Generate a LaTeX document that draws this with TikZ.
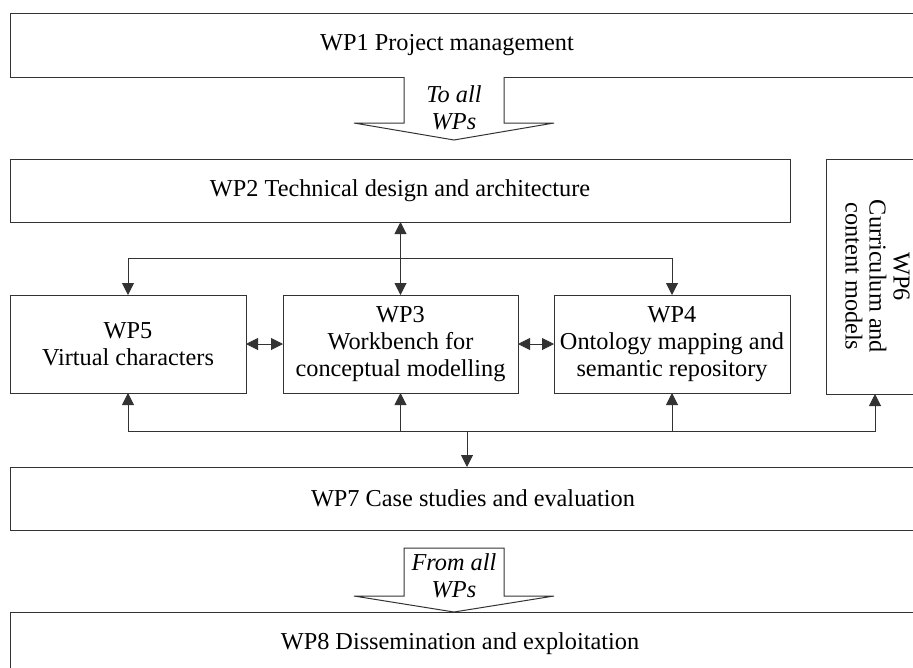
\documentclass[tikz,border=0pt]{standalone}
\usepackage{fontspec}
\setmainfont{Liberation Serif}
\usetikzlibrary{arrows.meta}
\begin{document}
\begin{tikzpicture}[x=1pt,y={(0pt,-1pt)},
  wpbox/.style={draw=black!80,line width=1pt,inner sep=0pt,outer sep=0pt,anchor=north west,
    font=\fontsize{24.3}{27}\selectfont,align=center},
  lbl/.style={font=\fontsize{24.3}{27}\selectfont,align=center,inner sep=0pt},
  ilbl/.style={font=\fontsize{24.3}{27}\selectfont\itshape,align=center,inner sep=0pt},
  conn/.style={draw=black!80,line width=1pt,-{Triangle[length=12pt,width=12pt]}},
  dconn/.style={draw=black!80,line width=1pt,{Triangle[length=12pt,width=12pt]}-{Triangle[length=12pt,width=12pt]}},
  fat/.style={draw=black!80,line width=1pt,fill=white}]
\useasboundingbox (0,0) rectangle (913,667);
\clip (0,0) rectangle (913,667);
\fill[white] (0,0) rectangle (913,667);

% boxes
\node[wpbox,minimum width=940pt,minimum height=64pt] (wp1) at (10,13) {};
\node[lbl] (t1) at (447,45) {WP1 Project management};

\node[wpbox,minimum width=780pt,minimum height=63pt] (wp2) at (10,159) {WP2 Technical design and architecture};

\node[wpbox,minimum width=98pt,minimum height=235pt] (wp6) at (826,159)
  {\rotatebox{-90}{\begin{tabular}{@{}c@{}}WP6\\[-3pt]Curriculum and\\[-3pt]content models\end{tabular}}};

\node[wpbox,minimum width=236pt,minimum height=98pt] (wp5) at (10,295) {WP5\\Virtual characters};
\node[wpbox,minimum width=235pt,minimum height=98pt] (wp3) at (283,295) {WP3\\Workbench for\\conceptual modelling};
\node[wpbox,minimum width=236pt,minimum height=98pt] (wp4) at (554,295) {WP4\\Ontology mapping and\\semantic repository};

\node[wpbox,minimum width=940pt,minimum height=63pt] (wp7) at (10,467) {};
\node[lbl] (t7) at (473,498) {WP7 Case studies and evaluation};

\node[wpbox,minimum width=940pt,minimum height=80pt] (wp8) at (10,612) {};
\node[lbl] (t8) at (460,644) {WP8 Dissemination and exploitation};

% fat arrows
\draw[fat] (404,77) -- (404,123) -- (354,123) -- (454,140) -- (554,123) -- (504,123) -- (504,77);
\node[ilbl] (ta) at (454,108) {To all\\WPs};
\draw[fat] (404,548) -- (404,596) -- (354,596) -- (454,612) -- (554,596) -- (504,596) -- (504,548) -- cycle;
\node[ilbl] (fa) at (454,576) {From all\\WPs};

% connectors
\draw[dconn] (wp3.north |- wp2.south) -- (wp3.north);
\coordinate (j1) at (400,258);
\draw[conn] (j1) -| (wp5.north);
\draw[conn] (j1) -| (wp4.north);
\draw[dconn] (wp5.east) -- (wp3.west);
\draw[dconn] (wp3.east) -- (wp4.west);

\coordinate (j2) at (467,431);
\draw[conn] (j2) -| (wp5.south);
\draw[conn] (j2) -| (wp3.south);
\draw[conn] (j2) -| (wp4.south);
\draw[conn] (j2) -| (wp6.south);
\draw[conn] (j2) -- (j2 |- wp7.north);
\end{tikzpicture}
\end{document}
